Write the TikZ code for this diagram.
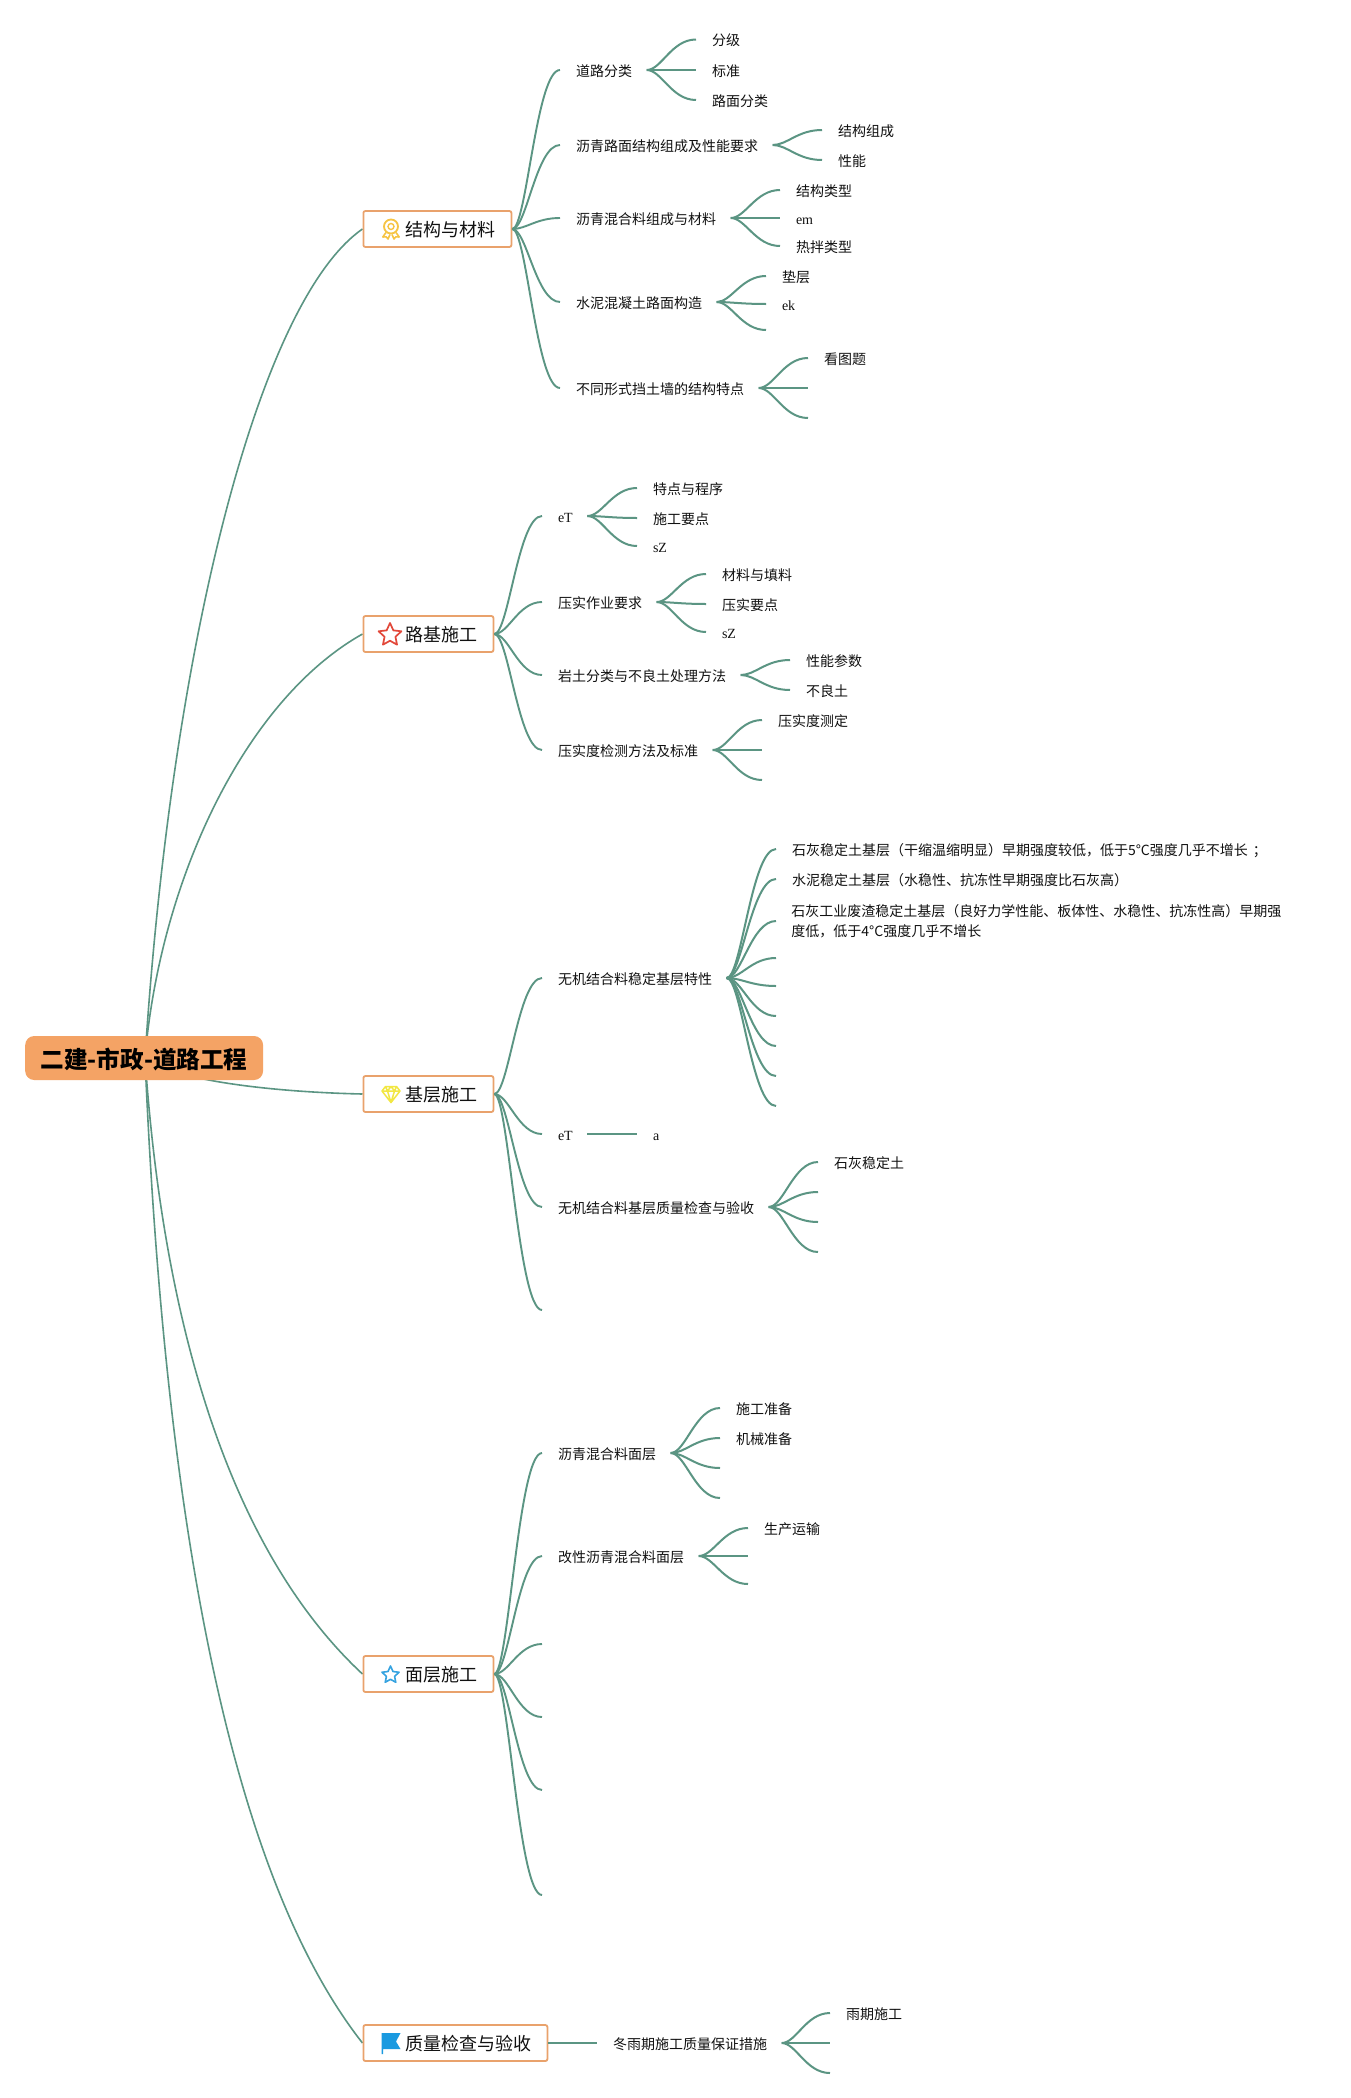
\documentclass[tikz,border=0pt]{standalone}
\usepackage{fontspec}
\setmainfont{Liberation Serif}
\newfontfamily\cjk{Noto Sans CJK SC}
\usetikzlibrary{calc,backgrounds,shapes.geometric}
\definecolor{lk}{HTML}{5B9583}
\definecolor{bd}{HTML}{E9A26C}
\definecolor{rt}{HTML}{F4A365}
\definecolor{tx}{HTML}{111111}
\tikzset{
  sc/.style={to path={let \p1=(\tikztostart), \p2=(\tikztotarget) in
    .. controls ({\x1+.3*(\x2-\x1)},\y1) and ({\x1+.5*(\x2-\x1)},\y2) .. (\tikztotarget)}},
  rootlink/.style={draw=lk,line width=1.6pt},
  lv1/.style={draw=lk,line width=1.9pt,sc},
  lv2/.style={draw=lk,line width=2pt,sc},
  leaf/.style={anchor=west,inner xsep=14.5pt,inner ysep=0pt,text=tx,text height=12.6pt,text depth=0pt,
     execute at begin node=\hspace*{1.3pt},
     font=\cjk\fontsize{14}{20}\selectfont},
  lat/.style={anchor=west,inner xsep=14.5pt,inner ysep=0pt,text=tx,text height=12.6pt,text depth=0pt,
     execute at begin node=\hspace*{1.3pt},
     font=\fontsize{14}{20}\selectfont},
  multi/.style={anchor=west,inner xsep=15.2pt,inner ysep=0pt,text=tx,align=left,yshift=-2pt,
     font=\cjk\fontsize{14}{20}\selectfont},
  topic/.style={anchor=west,draw=bd,line width=1.8pt,fill=white,rounded corners=2pt,minimum height=36pt,
     inner xsep=15.5pt,inner ysep=0pt,text=tx,text height=15pt,text depth=0pt,
     font=\cjk\fontsize{18}{20}\selectfont},
  rootnode/.style={anchor=west,fill=rt,rounded corners=9pt,minimum height=44pt,inner xsep=15.5pt,inner ysep=0pt,
     text=black,text height=20.5pt,text depth=0pt,font=\cjk\bfseries\fontsize{23.6}{26}\selectfont},
  starico/.style={star,star points=5,star point ratio=2.1,inner sep=0pt,line join=round},
}
\begin{document}
\begin{tikzpicture}[x=1pt,y=-1pt]
\useasboundingbox (0,0) rectangle (1351,2098);
\begin{scope}[on background layer]
\fill[white] (0,0) rectangle (1351,2098);
\end{scope}

% root and topics
\node[rootnode] (root) at (25,1058) {二建-市政-道路工程};
\coordinate (rc) at (145,1058);
\node[topic] (t1) at (362.5,229) {\hspace*{27pt}结构与材料};
\node[topic] (t2) at (362.5,634) {\hspace*{27pt}路基施工};
\node[topic] (t3) at (362.5,1094) {\hspace*{27pt}基层施工};
\node[topic] (t4) at (362.5,1674) {\hspace*{27pt}面层施工};
\node[topic] (t5) at (362.5,2043) {\hspace*{27pt}质量检查与验收};

% icons
\begin{scope}[draw=none]
 % medal
 \draw[color={rgb,255:red,246;green,196;blue,68},line width=1.8pt] (391,226.5) circle (7);
 \draw[color={rgb,255:red,246;green,196;blue,68},line width=1.4pt] (391,226.5) circle (3);
 \draw[color={rgb,255:red,246;green,196;blue,68},line width=1.6pt,line join=round]
   (386,232.5) -- (382.8,237) -- (386.2,236.8) -- (388,239) -- (390,234.5)
   (396,232.5) -- (399.2,237) -- (395.8,236.8) -- (394,239) -- (392,234.5);
 % gem
 \draw[color={rgb,255:red,242;green,231;blue,67},line width=1.5pt,line join=round]
   (385.5,1086.5) -- (396.5,1086.5) -- (400,1091) -- (391,1102.5) -- (382,1091) -- cycle
   (382,1091) -- (400,1091) (385.5,1086.5) -- (387.5,1091) -- (391,1102.5) -- (394.5,1091) -- (396.5,1086.5)
   (387.5,1091) -- (391,1086.5) -- (394.5,1091);
 % flag
 \fill[color={rgb,255:red,26;green,154;blue,224}]
   (381.5,2033) -- (400.5,2033) -- (396,2041.5) -- (400.5,2049) -- (383,2049) -- (383,2054) -- (381.5,2054) -- cycle;
\end{scope}
\node[starico,draw={rgb,255:red,226;green,72;blue,58},line width=1.7pt,minimum size=24pt] (ic2) at (390,635) {};
\node[starico,draw={rgb,255:red,54;green,163;blue,224},line width=1.6pt,minimum size=18pt] (ic4) at (390.5,1675) {};

% topic 1
\node[leaf] (a1) at (560,70) {道路分类};
\node[leaf] (a2) at (560,145) {沥青路面结构组成及性能要求};
\node[leaf] (a3) at (560,218) {沥青混合料组成与材料};
\node[leaf] (a4) at (560,302) {水泥混凝土路面构造};
\node[leaf] (a5) at (560,388) {不同形式挡土墙的结构特点};
\node[leaf] (a11) at (696,39.5) {分级};
\node[leaf] (a12) at (696,70) {标准};
\node[leaf] (a13) at (696,100) {路面分类};
\node[leaf] (a21) at (822,130) {结构组成};
\node[leaf] (a22) at (822,160) {性能};
\node[leaf] (a31) at (780,190) {结构类型};
\node[lat] (a32) at (780,218) {em};
\node[leaf] (a33) at (780,246) {热拌类型};
\node[leaf] (a41) at (766,276) {垫层};
\node[lat] (a42) at (766,304) {ek};
\coordinate (a43) at (766,330);
\node[leaf] (a51) at (808,358) {看图题};
\coordinate (a52) at (808,388);
\coordinate (a53) at (808,418);

% topic 2
\node[lat] (b1) at (542,516) {eT};
\node[leaf] (b2) at (542,602) {压实作业要求};
\node[leaf] (b3) at (542,675) {岩土分类与不良土处理方法};
\node[leaf] (b4) at (542,750) {压实度检测方法及标准};
\node[leaf] (b11) at (637,488) {特点与程序};
\node[leaf] (b12) at (637,518) {施工要点};
\node[lat] (b13) at (637,546) {sZ};
\node[leaf] (b21) at (706,574) {材料与填料};
\node[leaf] (b22) at (706,604) {压实要点};
\node[lat] (b23) at (706,632) {sZ};
\node[leaf] (b31) at (790,660) {性能参数};
\node[leaf] (b32) at (790,690) {不良土};
\node[leaf] (b41) at (762,720) {压实度测定};
\coordinate (b42) at (762,750);
\coordinate (b43) at (762,780);

% topic 3
\node[leaf] (c1) at (542,978) {无机结合料稳定基层特性};
\node[lat] (c2) at (542,1134) {eT};
\node[leaf] (c3) at (542,1207) {无机结合料基层质量检查与验收};
\coordinate (c4) at (542,1310);
\node[leaf] (c11) at (776,849) {石灰稳定土基层（干缩温缩明显）早期强度较低，低于5°C强度几乎不增长\hspace{5pt}；};
\node[leaf] (c12) at (776,879) {水泥稳定土基层（水稳性、抗冻性早期强度比石灰高）};
\node[multi] (c13) at (776,919) {石灰工业废渣稳定土基层（良好力学性能、板体性、水稳性、抗冻性高）早期强\\度低，低于4°C强度几乎不增长};
\coordinate (c14) at (776,958);
\coordinate (c15) at (776,986);
\coordinate (c16) at (776,1016);
\coordinate (c17) at (776,1046);
\coordinate (c18) at (776,1076);
\coordinate (c19) at (776,1106);
\node[lat] (c21) at (637,1134) {a};
\node[leaf] (c31) at (818,1162) {石灰稳定土};
\coordinate (c32) at (818,1192);
\coordinate (c33) at (818,1222);
\coordinate (c34) at (818,1252);

% topic 4
\node[leaf] (d1) at (542,1453) {沥青混合料面层};
\node[leaf] (d2) at (542,1556) {改性沥青混合料面层};
\coordinate (d3) at (542,1644);
\coordinate (d4) at (542,1717);
\coordinate (d5) at (542,1790);
\coordinate (d6) at (542,1895);
\node[leaf] (d11) at (720,1408) {施工准备};
\node[leaf] (d12) at (720,1438) {机械准备};
\coordinate (d13) at (720,1468);
\coordinate (d14) at (720,1498);
\node[leaf] (d21) at (748,1528) {生产运输};
\coordinate (d22) at (748,1556);
\coordinate (d23) at (748,1584);

% topic 5
\node[leaf] (e1) at (597,2043) {冬雨期施工质量保证措施};
\node[leaf] (e11) at (830,2013) {雨期施工};
\coordinate (e12) at (830,2043);
\coordinate (e13) at (830,2073);

% connectors
\begin{scope}[on background layer]
\draw[rootlink] (rc) .. controls (172,640) and (260,300) .. (t1.west);
\draw[rootlink] (rc) .. controls (160,880) and (245,700) .. (t2.west);
\draw[rootlink] (rc) .. controls (172,1080) and (270,1092) .. (t3.west);
\draw[rootlink] (rc) .. controls (165,1350) and (240,1560) .. (t4.west);
\draw[rootlink] (rc) .. controls (168,1600) and (250,1900) .. (t5.west);
\end{scope}
\foreach \k in {a1,a2,a3,a4,a5}{\draw[lv1] (t1.east) to (\k.west);}
\foreach \k in {b1,b2,b3,b4}{\draw[lv1] (t2.east) to (\k.west);}
\foreach \k in {c1,c2,c3}{\draw[lv1] (t3.east) to (\k.west);}
\draw[lv1] (t3.east) to (c4);
\foreach \k in {d1,d2}{\draw[lv1] (t4.east) to (\k.west);}
\foreach \k in {d3,d4,d5,d6}{\draw[lv1] (t4.east) to (\k);}
\draw[lv1] (t5.east) to (e1.west);

\foreach \p/\k in {a1/a11,a1/a12,a1/a13,a2/a21,a2/a22,a3/a31,a3/a32,a3/a33,a4/a41,a4/a42,a5/a51,
  b1/b11,b1/b12,b1/b13,b2/b21,b2/b22,b2/b23,b3/b31,b3/b32,b4/b41,
  c1/c11,c1/c12,c1/c13,c2/c21,c3/c31,d1/d11,d1/d12,d2/d21,e1/e11}{\draw[lv2] (\p.east) to (\k.west);}
\foreach \p/\k in {a4/a43,a5/a52,a5/a53,b4/b42,b4/b43,c1/c14,c1/c15,c1/c16,c1/c17,c1/c18,c1/c19,
  c3/c32,c3/c33,c3/c34,d1/d13,d1/d14,d2/d22,d2/d23,e1/e12,e1/e13}{\draw[lv2] (\p.east) to (\k);}
\end{tikzpicture}
\end{document}
